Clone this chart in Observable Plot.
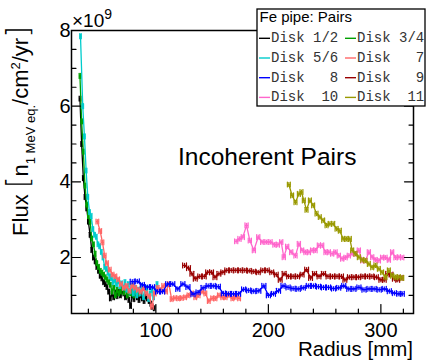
<!DOCTYPE html>
<html>
<head>
<meta charset="utf-8">
<script src="https://cdn.jsdelivr.net/npm/d3@7"></script>
<script src="https://cdn.jsdelivr.net/npm/@observablehq/plot@0.6"></script>
<style>
  body { margin: 0; background: #fff; }
  #chart { width: 426px; height: 360px; }
</style>
</head>
<body>
<div id="chart"></div>
<script>
// ---------- data ----------
const seriesNames = ["Disk 1/2", "Disk 3/4", "Disk 5/6", "Disk   7", "Disk   8", "Disk   9", "Disk  10", "Disk  11"];
const seriesColors = ["#000000", "#00a000", "#00cccc", "#ff6666", "#0000ff", "#990000", "#ff66cc", "#999900"];
const binHalfWidth = [0.7, 0.7, 0.7, 1.2, 1.8, 1.7, 1.4, 1.3];

const disk12 = [[32.5,6.2],[34,5.0],[35.5,4.1],[37,3.6],[38.5,3.3],[40,2.95],[41.5,2.6],[43,2.2],[44.5,2.0],[46,1.9],[47.5,1.75],[49,1.65],[50.5,1.52],[52,1.45],[53.5,1.35],[55,1.3],[56.5,1.22],[58,1.1],[59.5,0.92],[61,1.05],[62.5,0.95],[64,1.08],[65.5,0.98],[67,1.1],[68.5,1.0],[70,1.12],[71.5,1.05],[73,0.95],[74.5,1.0],[76,0.88],[77.5,0.72],[79,1.0],[80.5,0.9],[82,1.05],[83.5,0.95],[85,0.88],[86.5,1.0],[88,0.92],[89.5,0.85],[91,0.98],[92.5,0.92],[94,0.85],[95.5,0.78],[97,0.7],[98.5,0.66]];
const disk34 = [[32.5,6.8],[34,5.6],[35.5,4.8],[37,3.9],[38.5,3.4],[40,3.1],[41.5,2.95],[43,2.5],[44.5,2.35],[46,2.1],[47.5,1.85],[49,1.75],[50.5,1.65],[52,1.6],[53.5,1.55],[55,1.48],[56.5,1.42],[58,1.35],[59.5,1.28],[61,1.1],[62.5,1.2],[64,1.0],[65.5,1.15],[67,1.05],[68.5,1.1],[70,1.2],[71.5,1.08],[73,1.15],[74.5,1.0],[76,1.1],[77.5,1.05],[79,1.12],[80.5,1.0],[82,1.08],[83.5,1.05],[85,1.1]];
const disk56 = [[33,7.85],[35,6.0],[36.5,5.2],[38,4.3],[39.5,3.6],[41,3.2],[42.5,3.1],[44,2.75],[45.5,2.6],[47,2.55],[48.5,2.35],[50,2.3],[51.5,2.15],[53,2.0],[54.5,1.75],[56,1.7],[57.5,1.6],[59,1.5],[60.5,1.45],[62,1.35],[63.5,1.4],[65,1.3],[66.5,1.38],[68,1.25],[69.5,1.32],[71,1.2],[72.5,1.35],[74,1.15],[75.5,1.3],[77,1.1],[78.5,1.25],[80,1.05],[81.5,1.2],[83,1.0],[84.5,1.15],[86,1.05],[87.5,1.25],[89,0.95],[90.5,1.1],[92,1.2],[93.5,0.9],[95,1.05],[96.5,1.15],[98,0.95],[99.5,1.1],[101,1.3]];
const disk7 = [[48,2.95],[50.5,2.7],[52.5,2.4],[54.5,2.05],[56.5,1.85],[59,1.68],[61.5,1.55],[64,1.5],[66.5,1.42],[69,1.3],[71.5,1.2],[74,1.25],[76.5,1.12],[79,1.25],[81.5,1.2],[84,1.15],[86.5,1.1],[89,1.18],[91.5,1.05],[94,0.98],[96.5,0.7],[99,1.05],[101.5,1.2],[104,1.15],[106.5,1.25],[109,1.1],[111.5,1.3],[114,0.9],[117,0.93],[120,0.92],[123,0.93],[126,0.95],[129,1.0],[132,1.05],[135,0.95],[138,1.0],[141,1.1],[144,1.05],[147,0.85],[150,0.92],[153,0.92],[156,1.0],[159,0.95],[162,0.95],[165,1.0],[168,0.92],[171,0.95],[174,0.92]];
const disk8 = [[79,1.36],[83.5,1.37],[88,1.28],[92.5,1.22],[97,1.22],[101.5,1.1],[106,1.1],[110.5,1.3],[115,1.3],[119.5,1.17],[124,1.3],[128.5,1.22],[133,1.03],[137.5,1.08],[142,1.2],[146.5,1.25],[151,1.25],[155.5,1.23],[160,1.05],[164.5,1.04],[169,1.04],[173.5,1.04],[178,1.16],[182.5,1.13],[187,1.11],[191.5,1.12],[196,1.25],[200,1.0],[204.5,1.04],[209,1.12],[213,1.25],[217.5,1.21],[222,1.18],[226.5,1.17],[231,1.2],[235.5,1.25],[240,1.25],[244.5,1.23],[249,1.21],[253.5,1.21],[258,1.18],[262.5,1.2],[267,1.25],[271.5,1.17],[276,1.17],[280.5,1.21],[285,1.15],[289.5,1.17],[294,1.17],[298.5,1.15],[303,1.17],[307.5,1.11],[312,1.06],[316,1.04],[319,1.04]];
const disk9 = [[125.5,1.79],[129,1.72],[132,1.57],[135,1.44],[139,1.5],[143,1.5],[146,1.61],[149.5,1.61],[152.5,1.48],[156,1.57],[159.5,1.61],[163,1.66],[167,1.66],[171,1.66],[175,1.66],[179,1.66],[183,1.65],[187,1.63],[191,1.61],[195,1.66],[199,1.66],[203,1.61],[207,1.55],[210.5,1.41],[214,1.57],[218,1.5],[222,1.5],[226,1.5],[230,1.55],[234,1.68],[237.5,1.46],[241,1.57],[245,1.5],[249,1.57],[253,1.5],[257,1.5],[261,1.5],[265,1.5],[268,1.41],[272,1.48],[276,1.48],[280,1.48],[284,1.5],[288,1.5],[292,1.5],[296,1.48],[300,1.41],[303,1.41],[306,1.57],[309,1.55],[312,1.44],[315,1.41],[318,1.46]];
const disk10 = [[171.4,2.43],[174.3,2.49],[177.3,2.54],[180.6,2.85],[183.5,2.45],[187.1,2.19],[191,2.54],[194.5,2.41],[198.3,2.41],[201.9,2.41],[205.4,2.34],[208.4,2.34],[211.4,2.41],[213.7,2.01],[216.7,2.29],[220.3,2.14],[224.1,2.05],[227.1,2.36],[230,2.19],[233,2.14],[236,2.14],[238.9,2.19],[241.9,2.19],[244.9,2.32],[247.8,2.32],[250.8,2.14],[253.7,2.14],[256.7,2.1],[259.7,2.14],[262.6,2.05],[265.6,1.97],[268.6,2.0],[271.5,2.05],[274.5,2.1],[277.4,2.1],[280.4,2.19],[283.4,1.92],[286.3,1.92],[289.3,2.14],[292.3,2.01],[295.2,1.94],[298.2,1.92],[301.1,2.0],[304.1,2.0],[307.1,1.94],[310,2.14],[313,2.0],[316,2.01],[319,2.0]];
const disk11 = [[218.2,3.93],[221.1,3.64],[224.1,3.46],[227.1,3.68],[229.4,3.73],[231.5,3.51],[233.9,3.26],[236.9,3.51],[239.8,3.38],[242.8,3.16],[245.7,3.07],[248.7,2.98],[251.7,2.85],[254.6,2.89],[257.6,2.89],[260.6,2.76],[263.5,2.71],[266.5,2.49],[269.4,2.49],[272.4,2.49],[274.5,2.19],[277.4,2.1],[280.4,2.01],[283.4,1.94],[286.3,1.92],[289.3,1.83],[292.3,1.74],[295.2,1.79],[298.2,1.7],[301.1,1.61],[304.1,1.48],[307.1,1.66],[310,1.52],[313,1.48],[316,1.48],[319,1.46]];

const seriesData = [disk12, disk34, disk56, disk7, disk8, disk9, disk10, disk11];

const xMajorTicks = [100, 200, 300];
const xMinorTicks = [40, 60, 80, 120, 140, 160, 180, 220, 240, 260, 280, 320];
const yMajorTicks = [2, 4, 6, 8];
const yMinorTicks = [1, 1.5, 2.5, 3, 3.5, 4.5, 5, 5.5, 6.5, 7, 7.5];

// ---------- build ----------
const rows = seriesData.map((pts, i) => pts.map(([x, y]) => ({s: i, x, y, hw: binHalfWidth[i], color: seriesColors[i]})));

const tickShape = {draw(context, l) { context.moveTo(0, 0); context.lineTo(0, -l); }};
const axisTicks = (values, chan, frameAnchor, rotate, length) =>
  Plot.vector(values, {[chan]: d => d, frameAnchor, rotate, length, anchor: "start", shape: tickShape, stroke: "#000", strokeWidth: 1.2});

const marks = [];
rows.forEach((r) => {
  marks.push(Plot.line(r, {x: "x", y: "y", stroke: "color", strokeWidth: 1.3}));
  marks.push(Plot.link(r, {x1: d => d.x - d.hw, x2: d => d.x + d.hw, y1: "y", y2: "y", stroke: "color", strokeWidth: 1.3}));
  marks.push(Plot.vector(r, {x: d => d.x - d.hw, y: "y", length: 5, anchor: "middle", shape: tickShape, stroke: "color", strokeWidth: 1.2}));
  marks.push(Plot.vector(r, {x: d => d.x + d.hw, y: "y", length: 5, anchor: "middle", shape: tickShape, stroke: "color", strokeWidth: 1.2}));
  marks.push(Plot.vector(r, {x: "x", y: "y", length: 4, anchor: "middle", shape: tickShape, stroke: "color", strokeWidth: 1.2}));
});

const svg = Plot.plot({
  width: 426,
  height: 360,
  marginLeft: 71,
  marginRight: 13,
  marginTop: 30,
  marginBottom: 47,
  style: {fontFamily: "'Liberation Sans', Arial, sans-serif", background: "#fff", color: "#000"},
  x: {domain: [25, 329]},
  y: {domain: [0.52, 8]},
  color: {type: "identity"},
  clip: true,
  marks: [
    ...marks,
    axisTicks(xMajorTicks, "x", "bottom", 0, 9),
    axisTicks(xMinorTicks, "x", "bottom", 0, 4.5),
    axisTicks(yMajorTicks, "y", "left", 90, 9),
    axisTicks(yMinorTicks, "y", "left", 90, 4.5),
    axisTicks(yMajorTicks, "y", "right", -90, 9),
    axisTicks(yMinorTicks, "y", "right", -90, 4.5),
    Plot.axisX(xMajorTicks, {tickSize: 0, tickPadding: 9, fontSize: 20, label: null, tickFormat: d => String(d)}),
    Plot.axisY(yMajorTicks, {tickSize: 0, tickPadding: 1, fontSize: 20, label: null, tickFormat: d => String(d)}),
    Plot.frame({stroke: "#000", strokeWidth: 1.5})
  ]
});

document.getElementById("chart").appendChild(svg);

// ---------- annotations ----------
const g = d3.select(svg);
const sans = "'Liberation Sans', Arial, sans-serif";
const txt = (sel) => sel.append("text").attr("text-anchor", "start").attr("fill", "#000").attr("font-family", sans);

// x-axis title
txt(g).attr("x", 413).attr("y", 356).attr("text-anchor", "end").attr("font-size", 20.5).text("Radius [mm]");

// exponent
const ex = txt(g).attr("x", 72).attr("y", 27).attr("font-size", 19);
ex.append("tspan").text("×10");
ex.append("tspan").attr("font-size", 14).attr("dy", -8).text("9");

// y-axis title
const yl = txt(g).attr("transform", "translate(28,131) rotate(-90)").attr("text-anchor", "middle")
  .attr("font-size", 22).style("white-space", "pre");
yl.append("tspan").text("Flux ");
yl.append("tspan").attr("font-size", 30).attr("font-family", "'DejaVu Sans', sans-serif").attr("font-weight", 200).text("[");
yl.append("tspan").text("n");
yl.append("tspan").attr("font-size", 13).attr("dy", 7).text("1 MeV eq.");
yl.append("tspan").attr("dy", -7).text("/cm");
yl.append("tspan").attr("font-size", 13).attr("dy", -8).text("2");
yl.append("tspan").attr("dy", 8).text("/yr");
yl.append("tspan").attr("font-size", 30).attr("font-family", "'DejaVu Sans', sans-serif").attr("font-weight", 200).text("]");

// title
txt(g).attr("x", 178).attr("y", 165).attr("font-size", 24.5).text("Incoherent Pairs");

// legend
const lg = g.append("g");
lg.append("rect").attr("x", 257).attr("y", 9).attr("width", 168).attr("height", 97)
  .attr("fill", "#fff").attr("stroke", "#000").attr("stroke-width", 1.3);
txt(lg).attr("x", 259.5).attr("y", 22).attr("font-size", 15).text("Fe pipe: Pairs");
seriesNames.forEach((name, i) => {
  const row = Math.floor(i / 2), col = i % 2;
  const x0 = col ? 345 : 259;
  const yc = 38.3 + row * 19.7;
  lg.append("line").attr("x1", x0).attr("x2", x0 + 11).attr("y1", yc).attr("y2", yc)
    .attr("stroke", seriesColors[i]).attr("stroke-width", 1.4);
  txt(lg).attr("x", x0 + 12).attr("y", yc + 4).attr("font-family", "'Liberation Mono', 'DejaVu Sans Mono', monospace")
    .attr("font-size", 14).attr("fill", "#333").attr("xml:space", "preserve").style("white-space", "pre").text(name);
});
</script>
</body>
</html>
